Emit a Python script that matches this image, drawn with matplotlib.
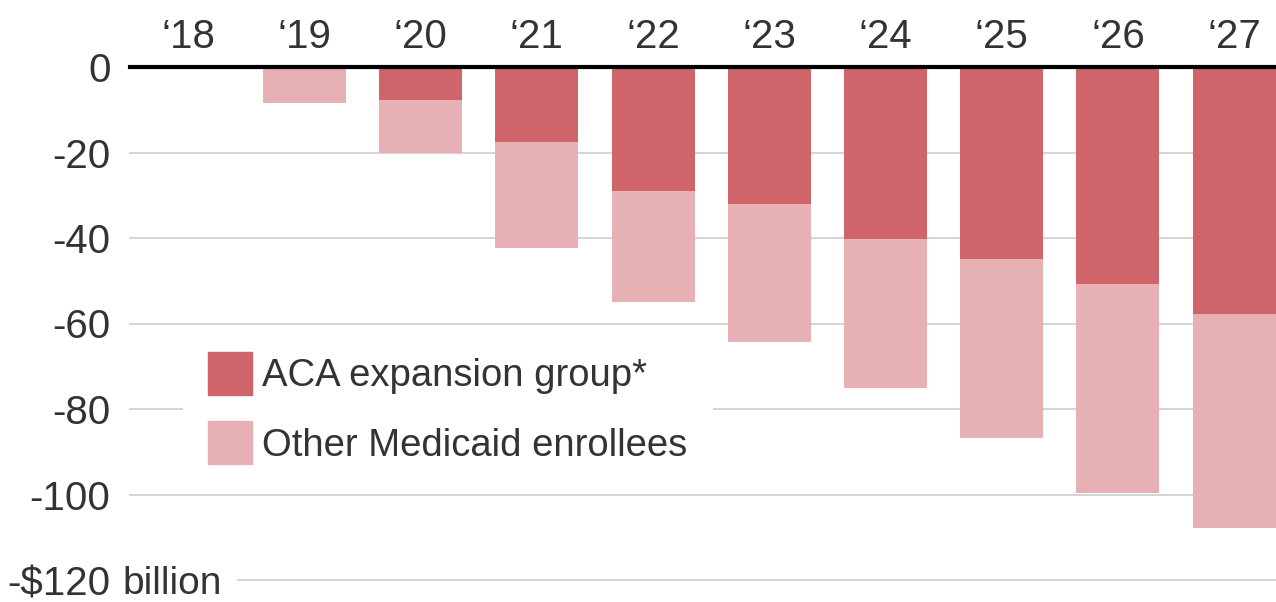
import numpy as np
import matplotlib
matplotlib.use("Agg")
import matplotlib.pyplot as plt
from matplotlib.patches import Patch

# values in $ billion (negative = cut)
years = ["\u201818", "\u201819", "\u201820", "\u201821", "\u201822",
         "\u201823", "\u201824", "\u201825", "\u201826", "\u201827"]
aca_group = [0.0, 0.0, -7.7, -17.6, -28.9, -32.1, -40.2, -44.8, -50.8, -57.8]
other_enrollees = [0.0, -8.5, -12.3, -24.8, -26.0, -32.2, -34.8, -41.9, -48.9, -50.1]
ytick_vals = [0, -20, -40, -60, -80, -100, -120]
ytick_labels = ["0", "-20", "-40", "-60", "-80", "-100", "-$120"]

dark = "#cf656a"
light = "#e6b0b4"
grid_col = "#cdcdcd"
txt_col = "#333333"

plt.rcParams["font.family"] = ["Liberation Sans", "DejaVu Sans"]

W, H = 1276, 602
fig = plt.figure(figsize=(W / 100, H / 100), dpi=100)
ax = fig.add_axes([130 / W, (H - 580) / H, 1 - 130 / W, 513 / H])

x = np.arange(len(years))
ax.bar(x, aca_group, width=0.714, color=dark, zorder=3)
ax.bar(x, other_enrollees, width=0.714, bottom=aca_group, color=light, zorder=3)

ax.set_ylim(-120, 0)
ax.set_xlim(-0.5, 9.36)

for v in ytick_vals[1:]:
    ax.axhline(v, color=grid_col, lw=1.2, zorder=1, clip_on=False)
ax.axhline(0, color="black", lw=3, zorder=4, clip_on=False)

ax.set_yticks(ytick_vals)
ax.set_yticklabels(ytick_labels)
ax.tick_params(axis="y", length=0, pad=14, labelsize=29, labelcolor=txt_col)
ax.xaxis.tick_top()
ax.set_xticks(x)
ax.set_xticklabels(years)
ax.tick_params(axis="x", length=0, pad=8, labelsize=29, labelcolor=txt_col)

# "billion" follows the last tick label and hides the start of its gridline
ax.annotate("billion", xy=(0, -120), xycoords=("axes fraction", "data"),
            xytext=(-5.5, 0), textcoords="offset points", ha="left",
            va="center_baseline", fontsize=28, color=txt_col, zorder=1.2,
            bbox=dict(boxstyle="square,pad=0.4", fc="white", ec="none"))

for s in ax.spines.values():
    s.set_visible(False)

handles = [Patch(color=dark, label="ACA expansion group*"),
           Patch(color=light, label="Other Medicaid enrollees")]
leg = ax.legend(handles=handles, loc="upper left",
                bbox_to_anchor=(183 / W, (H - 327) / H), bbox_transform=fig.transFigure,
                fontsize=27.5, frameon=True, fancybox=False, borderaxespad=0,
                borderpad=0.65, handlelength=1.15, handleheight=1.35,
                handletextpad=0.28, labelspacing=0.7)
leg.get_frame().set_facecolor("white")
leg.get_frame().set_edgecolor("none")
leg.get_frame().set_alpha(1)
leg.set_zorder(6)
for t in leg.get_texts():
    t.set_color(txt_col)

fig.savefig("out.png", dpi=100)
